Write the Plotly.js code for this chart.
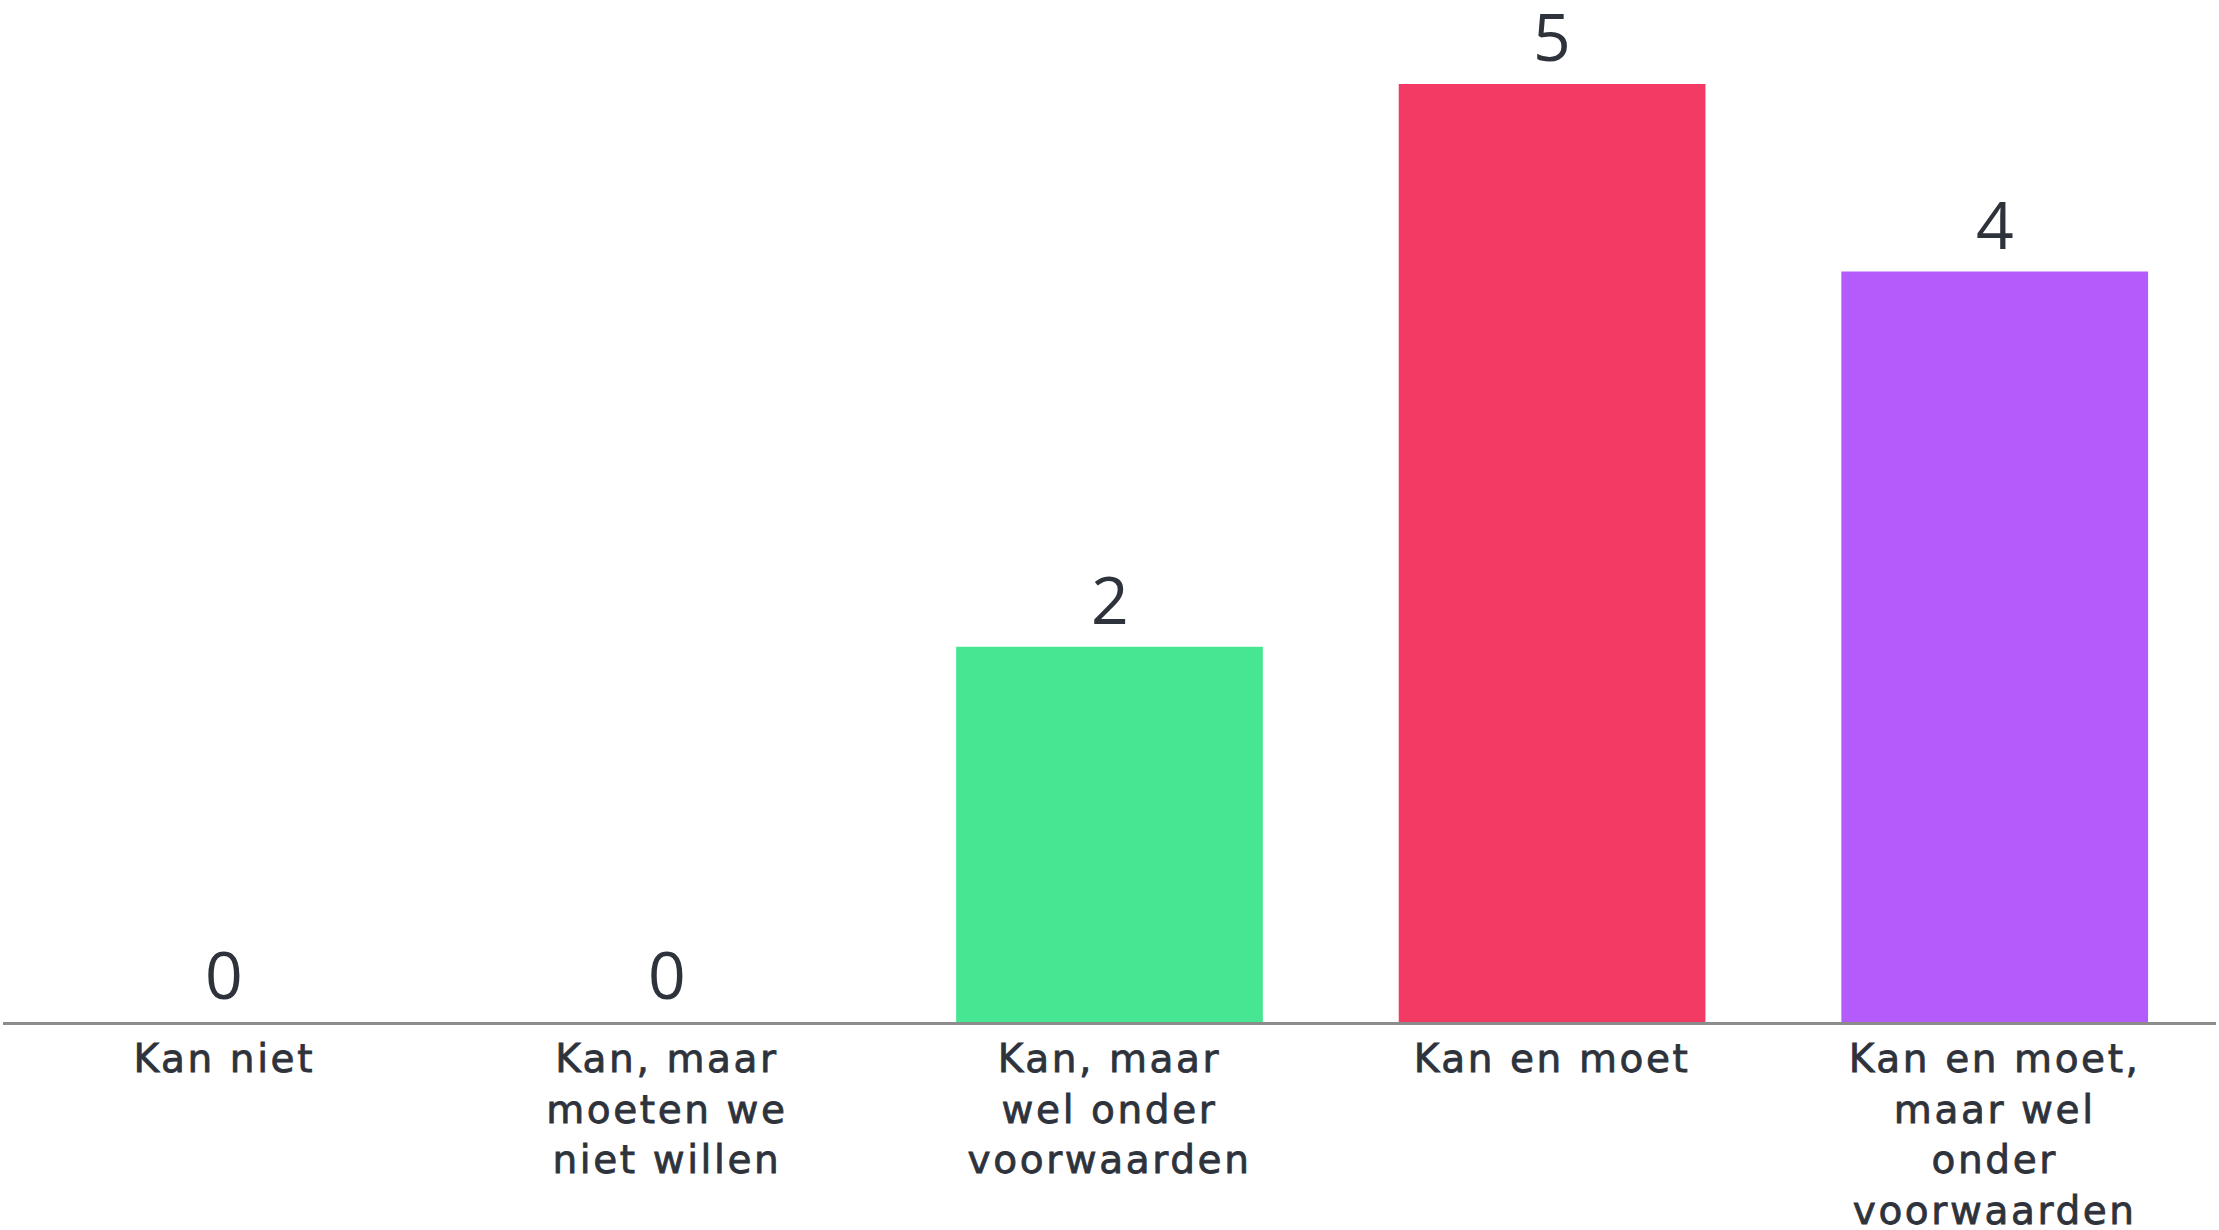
<!DOCTYPE html>
<html>
<head>
<meta charset="utf-8">
<script src="https://cdn.plot.ly/plotly-3.0.1.min.js"></script>
<style>
html,body{margin:0;padding:0;background:#fff;}
#chart{width:2219px;height:1230px;}
#chart .xtick text{letter-spacing:2.6px;stroke:#2e323b;stroke-width:0.8px;}
</style>
</head>
<body>
<div id="chart"></div>
<script>
var categories = ["Kan niet", "Kan, maar moeten we niet willen", "Kan, maar wel onder voorwaarden", "Kan en moet", "Kan en moet, maar wel onder voorwaarden"];
var tickLabels = ["Kan niet", "Kan, maar<br>moeten we<br>niet willen", "Kan, maar<br>wel onder<br>voorwaarden", "Kan en moet", "Kan en moet,<br>maar wel<br>onder<br>voorwaarden"];
var values = [0, 0, 2, 5, 4];
var barColors = ["#8f8ffb", "#f9a7a7", "#47e693", "#f33a64", "#b35bfb"];

var textColor = "#2e323b";
var tickFamily = "DejaVu Sans, Open Sans, sans-serif";
var numFamily = "Open Sans, Lato, sans-serif";

var trace = {
  type: "bar",
  x: categories,
  y: values,
  marker: {color: barColors},
  hoverinfo: "none",
  showlegend: false
};

var annotations = categories.map(function (c, i) {
  return {
    x: c, y: values[i], xref: "x", yref: "y",
    text: String(values[i]),
    showarrow: false,
    yanchor: "bottom",
    yshift: 2,
    font: {family: numFamily, size: 66, color: textColor, weight: 500}
  };
});

var layout = {
  width: 2219,
  height: 1230,
  margin: {l: 3, r: 3, t: 84, b: 208},
  paper_bgcolor: "#ffffff",
  plot_bgcolor: "#ffffff",
  bargap: 0.307,
  xaxis: {
    type: "category",
    tickvals: categories,
    ticktext: tickLabels,
    range: [-0.5, 4.5],
    showline: true,
    linecolor: "#8c8c8c",
    linewidth: 3,
    ticks: "",
    showgrid: false,
    zeroline: false,
    tickfont: {family: tickFamily, size: 39, color: textColor},
    ticklabelstandoff: 0
  },
  yaxis: {
    range: [0, 5],
    showgrid: false,
    zeroline: false,
    showline: false,
    showticklabels: false,
    ticks: ""
  },
  annotations: annotations
};

Plotly.newPlot("chart", [trace], layout, {displayModeBar: false, staticPlot: true});
</script>
</body>
</html>
